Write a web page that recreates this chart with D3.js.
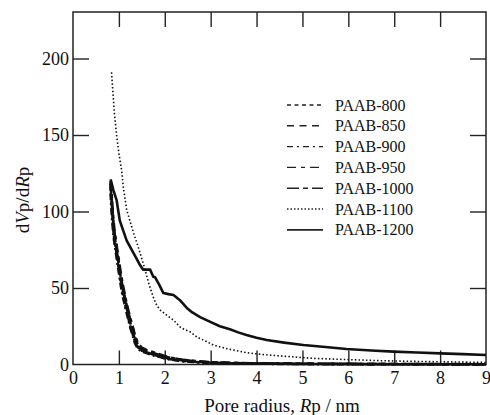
<!DOCTYPE html>
<html>
<head>
<meta charset="utf-8">
<script src="https://cdn.jsdelivr.net/npm/d3@7"></script>
<style>
  html, body { margin: 0; padding: 0; background: #fff; }
  svg { display: block; font-family: "Liberation Serif", "DejaVu Serif", serif; }
  svg text { font-family: "Liberation Serif", "DejaVu Serif", serif !important; fill: #111; }
</style>
</head>
<body>
<svg id="chart" width="490" height="415"></svg>
<script>
// ---------- data ----------
const xTicks = [0, 1, 2, 3, 4, 5, 6, 7, 8, 9];
const yTicks = [0, 50, 100, 150, 200];

const seriesNames = ["PAAB-800", "PAAB-850", "PAAB-900", "PAAB-950", "PAAB-1000", "PAAB-1100", "PAAB-1200"];

const xLow  = [0.82, 0.84, 0.86, 0.88, 0.9, 0.93, 0.96, 1.0, 1.04, 1.08, 1.12, 1.16, 1.2, 1.25, 1.3, 1.35, 1.4, 1.45, 1.5, 1.6, 1.7, 1.8, 1.9, 2.0, 2.2, 2.4, 2.6, 2.8, 3.0, 3.3, 3.6, 4.0, 4.5, 5, 6, 7, 8, 9];
const y800  = [116, 106, 97, 88, 82, 77, 70, 62, 54, 47, 41, 36, 31, 25, 20, 15, 12, 10, 9, 8, 7, 6, 5, 4, 3, 2.2, 1.8, 1.4, 1.1, 0.9, 0.7, 0.6, 0.5, 0.4, 0.3, 0.2, 0.2, 0.1];
const y850  = [118, 110, 101, 93, 87, 80, 74, 66, 58, 51, 45, 40, 35, 29, 24, 18, 14, 12, 10.5, 9, 8, 7, 6, 5, 4, 3, 2.3, 1.8, 1.4, 1.1, 0.9, 0.7, 0.6, 0.5, 0.4, 0.3, 0.2, 0.2];
const y900  = [112, 100, 92, 85, 80, 74, 68, 60, 52, 45, 40, 35, 30, 24, 19, 14, 11, 9.5, 8.5, 7.5, 6.5, 5.5, 5, 4, 3, 2.2, 1.7, 1.3, 1, 0.8, 0.6, 0.5, 0.4, 0.3, 0.2, 0.2, 0.1, 0.1];
const y950  = [120, 112, 103, 95, 89, 82, 76, 68, 60, 53, 47, 41, 36, 30, 25, 19, 15, 12.5, 11, 9.5, 8.5, 7.5, 6.5, 5.5, 4, 3, 2.5, 2, 1.5, 1.2, 1, 0.8, 0.6, 0.5, 0.4, 0.3, 0.3, 0.2];
const y1000 = [119, 107, 99, 91, 85, 79, 73, 65, 57, 50, 44, 38, 33, 27, 22, 16, 12.5, 10.5, 9.5, 8, 7, 6, 5.5, 4.5, 3.5, 2.6, 2, 1.6, 1.2, 1, 0.8, 0.6, 0.5, 0.4, 0.3, 0.2, 0.2, 0.1];

const x1100 = [0.84, 0.9, 0.95, 1.0, 1.06, 1.1, 1.17, 1.24, 1.33, 1.42, 1.5, 1.57, 1.66, 1.75, 1.82, 1.9, 2.05, 2.19, 2.35, 2.55, 2.7, 2.91, 3.06, 3.4, 3.78, 4.1, 4.51, 5.24, 6, 6.69, 7.5, 8.2, 8.87, 9];
const y1100 = [191, 165, 150, 138, 127, 115, 101, 94, 85, 77, 69, 62, 52, 44, 39, 35.6, 32, 29, 24, 21.4, 18, 15, 12.7, 10, 7.7, 6.6, 5.6, 4, 3.2, 2.5, 2, 1.7, 1.4, 1.3];

const x1200 = [0.82, 0.88, 0.95, 1.02, 1.1, 1.17, 1.28, 1.37, 1.46, 1.53, 1.57, 1.68, 1.75, 1.79, 1.88, 1.97, 2.08, 2.19, 2.33, 2.48, 2.6, 2.77, 2.98, 3.2, 3.42, 3.6, 3.78, 4.0, 4.22, 4.6, 5.02, 5.5, 5.96, 6.5, 6.98, 7.5, 8.0, 8.5, 9.0];
const y1200 = [121, 114, 107.5, 94, 87, 81, 75, 70, 65, 62, 62, 62, 57.4, 57, 52, 46.7, 46, 45.4, 42, 37, 34, 31, 28, 25, 23, 21, 19.3, 17.5, 16, 14.3, 12.7, 11.4, 10.1, 9.2, 8.4, 7.8, 7.3, 6.8, 6.2];

const seriesX = [xLow, xLow, xLow, xLow, xLow, x1100, x1200];
const seriesY = [y800, y850, y900, y950, y1000, y1100, y1200];

// ---------- styles ----------
const dashes  = ["4,3", "7,5", "7,3,2,3", "9,4,4,4", "11,3,4,3", "1.5,2.2", null];
const widths  = [2.6, 2.6, 2.6, 2.6, 2.6, 1.6, 2.6];
const legDash = ["4,3.5", "7,5.5", "6,4,2,4", "9,5,4,5", "12,4,5,4", "1.5,2", null];
const FONT = "'Liberation Serif', 'DejaVu Serif', serif";

const svg = d3.select("#chart");
const L = 73, R = 486, T = 12, B = 364.5;

const x = d3.scaleLinear().domain([0, 9]).range([L, R]);
const y = d3.scaleLinear().domain([0, 230.4]).range([B, T]);

// axes
const gB = svg.append("g").attr("transform", `translate(0,${B})`)
  .call(d3.axisBottom(x).tickValues(xTicks).tickSize(-14).tickPadding(7).tickFormat(d3.format("d")));
const gL = svg.append("g").attr("transform", `translate(${L},0)`)
  .call(d3.axisLeft(y).tickValues(yTicks).tickSize(-16).tickPadding(4).tickFormat(d3.format("d")));
const gT = svg.append("g").attr("transform", `translate(0,${T})`)
  .call(d3.axisTop(x).tickValues(xTicks.slice(1, -1)).tickSize(-15).tickFormat(""));
const gR = svg.append("g").attr("transform", `translate(${R},0)`)
  .call(d3.axisRight(y).tickValues(yTicks.slice(1)).tickSize(-16).tickFormat(""));

[gB, gL, gT, gR].forEach(g => {
  g.attr("font-family", FONT).style("font-family", FONT);
  g.select(".domain").remove();
  g.selectAll(".tick line").attr("stroke", "#222").attr("stroke-width", 1.4);
  g.selectAll("text").attr("font-size", 18).style("font-family", FONT).attr("fill", "#111");
});
gB.selectAll(".tick").filter(d => d === 0 || d === 9).select("line").remove();
gL.selectAll(".tick").filter(d => d === 0).select("line").remove();

// frame
svg.append("rect").attr("x", L).attr("y", T).attr("width", R - L).attr("height", B - T)
  .attr("fill", "none").attr("stroke", "#222").attr("stroke-width", 1.5);

// curves
const line = d3.line().x(d => x(d[0])).y(d => y(d[1]));
const plot = svg.append("g");
for (let i = seriesNames.length - 1; i >= 0; i--) {
  const pts = seriesX[i].map((v, k) => [v, seriesY[i][k]]);
  plot.append("path").datum(pts)
    .attr("d", line)
    .attr("fill", "none")
    .attr("stroke", "#111")
    .attr("stroke-width", widths[i])
    .attr("stroke-dasharray", dashes[i])
    .attr("stroke-linejoin", "round");
}

// legend
const leg = svg.append("g");
seriesNames.forEach((name, i) => {
  const cy = 105 + i * 20.8;
  leg.append("line").attr("x1", 287).attr("x2", 323).attr("y1", cy).attr("y2", cy)
    .attr("stroke", "#222").attr("stroke-width", i === 6 ? 1.8 : 1.4)
    .attr("stroke-dasharray", legDash[i]);
  leg.append("text").attr("x", 335).attr("y", cy).attr("dy", "0.35em")
    .style("font-family", FONT).attr("font-size", 16).text(name);
});

// axis titles
const xt = svg.append("text").attr("x", 282).attr("y", 412).attr("text-anchor", "middle")
  .style("font-family", FONT).attr("font-size", 19);
xt.append("tspan").text("Pore radius, ");
xt.append("tspan").attr("font-style", "italic").text("R");
xt.append("tspan").text("p / nm");

const yt = svg.append("text").attr("transform", "translate(29,200) rotate(-90)").attr("text-anchor", "middle")
  .style("font-family", FONT).attr("font-size", 19);
yt.append("tspan").text("d");
yt.append("tspan").attr("font-style", "italic").text("V");
yt.append("tspan").text("p/d");
yt.append("tspan").attr("font-style", "italic").text("R");
yt.append("tspan").text("p");
</script>
</body>
</html>
